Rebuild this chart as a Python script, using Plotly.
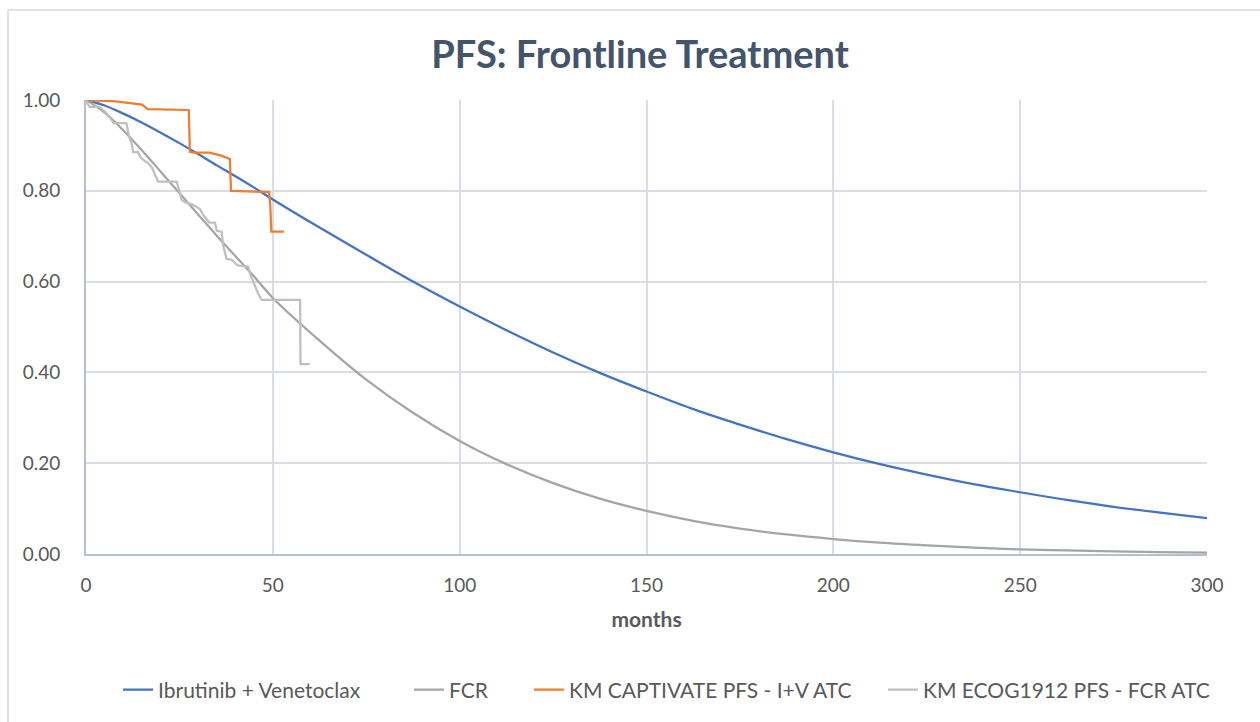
import plotly.graph_objects as go

# Smooth model curves
model_t = [0, 5, 10, 15, 20, 25, 30, 35, 40, 45, 50, 62.5, 75, 87.5, 100, 112.5, 125, 137.5, 150,
           162.5, 175, 187.5, 200, 212.5, 225, 237.5, 250, 262.5, 275, 287.5, 300]
ibr_ven = [1.0, 0.988, 0.970, 0.950, 0.928, 0.905, 0.881, 0.856, 0.832, 0.807, 0.781, 0.719, 0.659, 0.600,
           0.545, 0.493, 0.444, 0.399, 0.358, 0.319, 0.285, 0.253, 0.224, 0.198, 0.175, 0.154, 0.136,
           0.119, 0.104, 0.091, 0.079]
fcr = [1.0, 0.972, 0.933, 0.889, 0.842, 0.795, 0.748, 0.701, 0.656, 0.611, 0.564, 0.470, 0.384, 0.311,
       0.249, 0.198, 0.156, 0.122, 0.095, 0.073, 0.056, 0.043, 0.033, 0.025, 0.019, 0.014, 0.010,
       0.008, 0.006, 0.004, 0.003]

# KM CAPTIVATE PFS - I+V ATC
cap_t = [0, 8, 15, 16.5, 27.5, 27.8, 29, 33, 36, 38.5, 38.8, 49, 49.3, 49.6, 53]
cap_s = [1.0, 0.997, 0.990, 0.980, 0.978, 0.886, 0.884, 0.884, 0.878, 0.870, 0.800, 0.797, 0.770, 0.710, 0.710]

# KM ECOG1912 PFS - FCR ATC
ecog_t = [0, 0.5, 1, 3.5, 5, 7, 7.3, 10.8, 11.5, 12.2, 12.6, 14, 14.5, 15.8, 16.5, 17.6, 18.5, 19.3,
          24.3, 25, 25.6, 26.5, 28.5, 29.5, 30.5, 31.5, 33, 34.5, 35, 36.3, 36.7, 37.6, 39, 40.5,
          43.4, 44, 45.2, 46, 47, 57.3, 57.4, 59.9]
ecog_s = [1.0, 0.990, 0.985, 0.985, 0.975, 0.955, 0.949, 0.949, 0.920, 0.905, 0.885, 0.885, 0.875, 0.865, 0.862, 0.852, 0.835, 0.820,
          0.820, 0.800, 0.780, 0.775, 0.770, 0.765, 0.760, 0.745, 0.730, 0.730, 0.712, 0.710, 0.680, 0.650, 0.648, 0.636,
          0.633, 0.615, 0.590, 0.575, 0.560, 0.560, 0.418, 0.418]

x_ticks = [0, 50, 100, 150, 200, 250, 300]
y_ticks = [0.0, 0.2, 0.4, 0.6, 0.8, 1.0]
y_tick_labels = ["0.00", "0.20", "0.40", "0.60", "0.80", "1.00"]

BLUE = "#4472C4"
GRAY_DARK = "#A5A5A5"
ORANGE = "#ED7D31"
GRAY_LIGHT = "#BFBFBF"
FONT = "Lato"

fig = go.Figure()
fig.add_trace(go.Scatter(x=model_t, y=ibr_ven, mode="lines", name="Ibrutinib + Venetoclax", legend="legend",
                         line=dict(color=BLUE, width=2.25, shape="spline", smoothing=1.0)))
fig.add_trace(go.Scatter(x=model_t, y=fcr, mode="lines", name="FCR", legend="legend2",
                         line=dict(color=GRAY_DARK, width=2.25, shape="spline", smoothing=1.0)))
fig.add_trace(go.Scatter(x=cap_t, y=cap_s, mode="lines", name="KM CAPTIVATE PFS - I+V ATC", legend="legend3",
                         line=dict(color=ORANGE, width=2.25)))
fig.add_trace(go.Scatter(x=ecog_t, y=ecog_s, mode="lines", name="KM ECOG1912 PFS - FCR ATC", legend="legend4",
                         line=dict(color=GRAY_LIGHT, width=2.25)))

# outer chart border (light)
fig.add_shape(type="rect", xref="paper", yref="paper",
              x0=(8 - 86) / 1121, x1=(1275 - 86) / 1121,
              y0=(554 - 740) / 454, y1=(554 - 10) / 454,
              line=dict(color="#D9D9D9", width=1.5), fillcolor="rgba(0,0,0,0)", layer="below")


def legend_at(px):
    return dict(orientation="h", x=px / 1260, xref="container", xanchor="left",
                y=1 - 690 / 722, yref="container", yanchor="middle",
                font=dict(family=FONT, size=21, color="#595959"),
                bgcolor="rgba(0,0,0,0)")


fig.update_layout(
    width=1260, height=722,
    margin=dict(l=86, r=53, t=100, b=168),
    paper_bgcolor="white", plot_bgcolor="white",
    font=dict(family=FONT, color="#595959", size=19),
    title=dict(text="<b>PFS: Frontline Treatment</b>", x=0.508, xref="container", xanchor="center",
               y=1 - 55 / 722, yref="container", yanchor="middle",
               font=dict(family=FONT, size=38, color="#44546A")),
    showlegend=True,
    legend=legend_at(118),
    legend2=legend_at(409),
    legend3=legend_at(529),
    legend4=legend_at(883),
    xaxis=dict(range=[0, 300], tickvals=x_ticks, ticktext=[str(v) for v in x_ticks],
               showgrid=True, gridcolor="#D9DEE6", gridwidth=1.5,
               showline=True, linecolor="#B4BFD0", linewidth=2, zeroline=False,
               ticks="", ticklabelstandoff=13,
               tickfont=dict(family=FONT, size=19, color="#595959"),
               title=dict(text="<b>months</b>", standoff=18,
                          font=dict(family=FONT, size=21, color="#595959"))),
    yaxis=dict(range=[0, 1.0], tickvals=y_ticks, ticktext=y_tick_labels,
               showgrid=True, gridcolor="#D9DEE6", gridwidth=1.5,
               showline=True, linecolor="#B4BFD0", linewidth=2, zeroline=False,
               ticks="", ticklabelstandoff=20,
               tickfont=dict(family=FONT, size=19, color="#595959")),
)

fig.write_html("out.html")
